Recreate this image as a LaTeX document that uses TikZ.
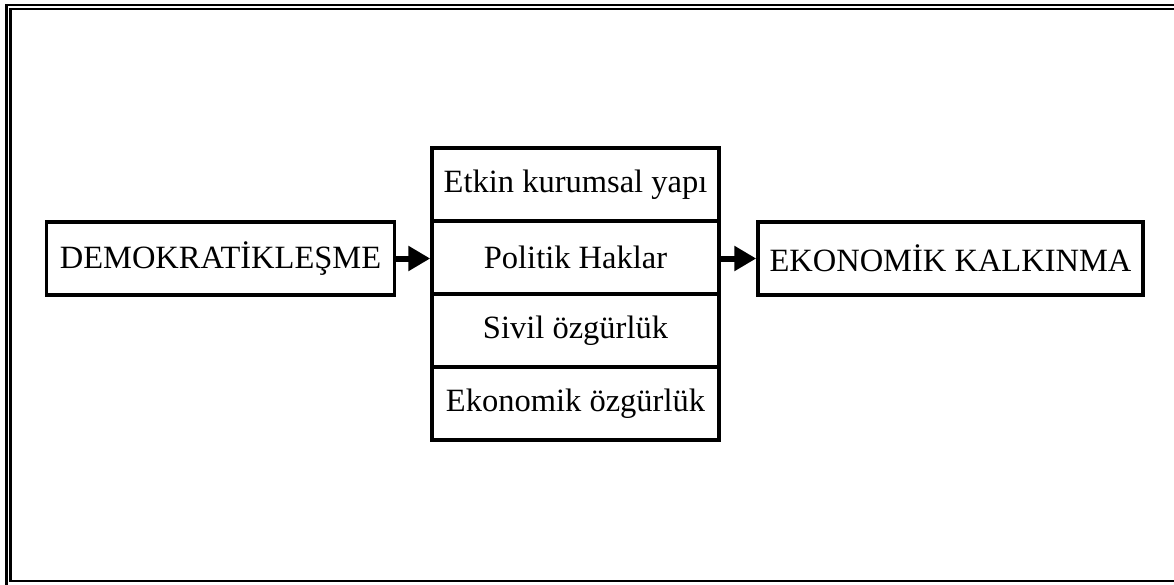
\documentclass[tikz,border=0pt]{standalone}
\usepackage{fontspec}
\setmainfont{Liberation Serif}
\usetikzlibrary{arrows.meta}
\begin{document}
\begin{tikzpicture}[x=1pt,y=-1pt,
  box/.style={draw, line width=3.5pt, inner sep=0pt, font=\fontsize{32.5}{38}\selectfont},
  cell/.style={box, minimum width=287pt, minimum height=73pt},
  frameline/.style={line width=2.2pt},
  flow/.style={line width=6pt, -{Triangle[length=22pt,width=24pt]}}]
\useasboundingbox (0,0) rectangle (1174,585);
% frame
\draw[frameline] (6.5,585) -- (6.5,5) -- (1174,5);
\draw[frameline] (1174,9) -- (10.5,9) -- (10.5,581) -- (1174,581);
% boxes
\node[box, minimum width=348pt, minimum height=73pt] (dem) at (220.5,258.5) {DEMOKRATİKLEŞME};
\node[cell] (etk) at (575.5,184.5) {Etkin kurumsal yapı};
\node[cell] (pol) at (575.5,257.5) {Politik Haklar};
\node[cell] (siv) at (575.5,330.5) {Sivil özgürlük};
\node[cell] (eko) at (575.5,403.5) {Ekonomik özgürlük};
\node[box, minimum width=385pt, minimum height=73pt] (kal) at (950.5,258.5) {EKONOMİK KALKINMA};
% arrows
\draw[flow] (dem.east) -- (dem.east -| pol.west);
\draw[flow] (pol.east |- kal.west) -- (kal.west);
\end{tikzpicture}
\end{document}
